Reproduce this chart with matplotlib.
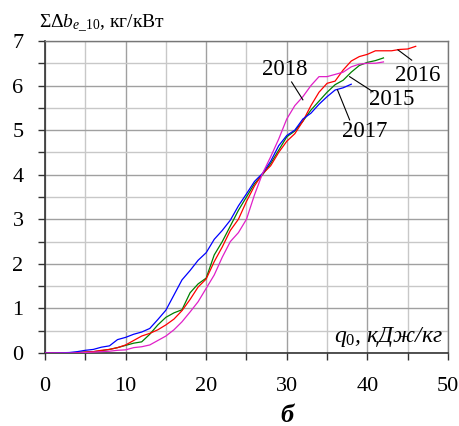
import matplotlib
matplotlib.use("Agg")
import matplotlib.pyplot as plt
from matplotlib.ticker import MultipleLocator

# 2015 (green)
x_2015 = list(range(0, 43))
y_2015 = [0, 0, 0, 0, 0.01, 0.02, 0.03, 0.05, 0.08, 0.12,
          0.17, 0.22, 0.25, 0.42, 0.63, 0.80, 0.90, 0.97, 1.35, 1.55,
          1.68, 2.20, 2.50, 2.85, 3.20, 3.50, 3.80, 4.00, 4.25, 4.55,
          4.85, 4.98, 5.20, 5.45, 5.65, 5.85, 6.02, 6.12, 6.30, 6.45,
          6.52, 6.56, 6.62]

# 2016 (red)
x_2016 = list(range(0, 47))
y_2016 = [0, 0, 0, 0, 0.01, 0.02, 0.03, 0.06, 0.08, 0.12,
          0.18, 0.28, 0.38, 0.44, 0.52, 0.63, 0.76, 0.95, 1.20, 1.48,
          1.66, 2.05, 2.38, 2.75, 3.00, 3.40, 3.75, 4.02, 4.20, 4.50,
          4.75, 4.92, 5.20, 5.55, 5.85, 6.05, 6.10, 6.35, 6.55, 6.65,
          6.70, 6.78, 6.78, 6.78, 6.81, 6.82, 6.88]

# 2017 (blue)
x_2017 = list(range(0, 39))
y_2017 = [0, 0, 0.005, 0.01, 0.03, 0.06, 0.08, 0.13, 0.16, 0.30,
          0.35, 0.42, 0.47, 0.55, 0.75, 0.96, 1.30, 1.64, 1.85, 2.08,
          2.25, 2.55, 2.75, 2.98, 3.30, 3.57, 3.85, 4.03, 4.30, 4.65,
          4.88, 5.00, 5.25, 5.38, 5.58, 5.75, 5.90, 5.95, 6.03]

# 2018 (magenta)
x_2018 = list(range(0, 43))
y_2018 = [0, 0, 0, 0, 0, 0.01, 0.02, 0.03, 0.04, 0.06,
          0.07, 0.12, 0.14, 0.18, 0.28, 0.38, 0.52, 0.70, 0.92, 1.15,
          1.45, 1.75, 2.15, 2.50, 2.70, 3.00, 3.55, 4.03, 4.40, 4.80,
          5.25, 5.55, 5.75, 6.00, 6.20, 6.20, 6.25, 6.30, 6.42, 6.48,
          6.50, 6.50, 6.53]

series = [
    (x_2015, y_2015, "#008000"),
    (x_2016, y_2016, "#ff0000"),
    (x_2017, y_2017, "#0000ff"),
    (x_2018, y_2018, "#e020c8"),
]

# label text, text position, leader start, leader end
year_labels = [
    ("2018", (29.8, 6.35), (30.6, 6.08), (32.0, 5.68)),
    ("2016", (46.2, 6.22), (43.8, 6.80), (45.5, 6.57)),
    ("2015", (43.0, 5.68), (37.8, 6.20), (40.7, 5.86)),
    ("2017", (39.7, 4.96), (36.3, 5.90), (37.8, 5.23)),
]

plt.rcParams["font.family"] = ["Liberation Serif", "DejaVu Serif"]
plt.rcParams["mathtext.fontset"] = "custom"
plt.rcParams["mathtext.rm"] = "Liberation Serif"
plt.rcParams["mathtext.it"] = "Liberation Serif:italic"
plt.rcParams["mathtext.bf"] = "Liberation Serif:bold"

fig = plt.figure(figsize=(4.6, 4.26), dpi=100)
ax = fig.add_axes([0.0978, 0.1714, 0.876, 0.7324])

for xs, ys, color in series:
    ax.plot(xs, ys, color=color, linewidth=0.9, zorder=3)

for text, pos, start, end in year_labels:
    ax.text(pos[0], pos[1], text, fontsize=16.5, ha="center",
            va="center", zorder=4)
    ax.plot([start[0], end[0]], [start[1], end[1]], color="black",
            linewidth=0.8, zorder=4)

ax.set_xlim(0, 50)
ax.set_ylim(0, 7)
ax.xaxis.set_major_locator(MultipleLocator(10))
ax.xaxis.set_minor_locator(MultipleLocator(5))
ax.yaxis.set_major_locator(MultipleLocator(1))
ax.yaxis.set_minor_locator(MultipleLocator(0.5))

ax.grid(True, which="major", color="#a0a0a0", linewidth=1.0, zorder=0)
ax.grid(True, which="minor", color="#c8c8c8", linewidth=1.0, zorder=0)
ax.set_axisbelow(True)

ax.tick_params(which="both", direction="out", length=5, width=1.0,
               color="#333333", labelsize=16)
ax.tick_params(axis="x", pad=12)
ax.tick_params(axis="y", pad=10.5)

for side in ["left", "bottom"]:
    ax.spines[side].set_color("#333333")
    ax.spines[side].set_linewidth(1.2)
for side in ["top", "right"]:
    ax.spines[side].set_color("#777777")
    ax.spines[side].set_linewidth(1.0)

fig.text(0.085, 0.944,
         r"$\mathrm{\Sigma\Delta}b_{e\mathrm{\_10}}$, кг/кВт",
         fontsize=14, ha="left", va="center")

ax.text(49.4, 0.25, r"$q_0$, кДж/кг", fontsize=17, fontstyle="italic",
        ha="right", va="baseline")

fig.text(287 / 460, 1 - 415 / 426, "б", fontsize=19, fontweight="bold",
         fontstyle="italic", ha="center", va="center")

fig.savefig("out.png", dpi=100)
